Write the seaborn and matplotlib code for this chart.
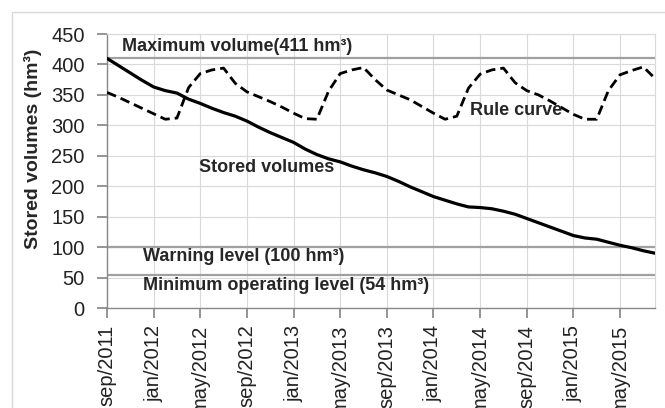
import numpy as np
import pandas as pd
import matplotlib
matplotlib.use("Agg")
import matplotlib.pyplot as plt
import seaborn as sns
from matplotlib.patches import Rectangle

# ---- data (monthly, Sep 2011 .. Aug 2015) ----
months = pd.date_range("2011-09-01", "2015-08-01", freq="MS")
stored_volumes = [410, 398, 386, 374, 363, 357, 353, 343, 336, 328, 321, 315,
                  307, 297, 288, 280, 272, 261, 252, 245, 240, 233, 227, 222,
                  216, 208, 199, 191, 183, 177, 171, 166, 165, 163, 159, 154,
                  147, 140, 133, 126, 119, 115, 113, 108, 103, 99, 94, 90]
rule_curve = [354, 346, 337, 328, 319, 310, 312, 362, 385, 391, 394, 369,
              355, 347, 339, 330, 320, 311, 310, 356, 385, 391, 395, 375,
              358, 350, 342, 331, 320, 310, 315, 361, 384, 391, 394, 370,
              357, 350, 340, 329, 318, 310, 310, 357, 383, 390, 396, 377]
tick_labels = ["sep/2011", "jan/2012", "may/2012", "sep/2012", "jan/2013",
               "may/2013", "sep/2013", "jan/2014", "may/2014", "sep/2014",
               "jan/2015", "may/2015"]
max_volume = 411
warning_level = 100
min_level = 54

df = pd.DataFrame({"m": np.arange(len(months)),
                   "stored": stored_volumes,
                   "rule": rule_curve})

sns.set_theme(style="white")
plt.rcParams["font.family"] = ["Liberation Sans", "DejaVu Sans"]

fig = plt.figure(figsize=(6.65, 4.08), dpi=100)
fig.patches.append(Rectangle((12 / 665, -0.05), 1.0, 1 - 12 / 408 + 0.05,
                             transform=fig.transFigure, fill=False,
                             edgecolor="#d9d9d9", linewidth=1.0))
ax = fig.add_axes([107 / 665, 1 - 308 / 408, 548 / 665, 274 / 408])

grid_c = "#d9d9d9"
ax.set_xlim(0, len(months) - 1)
ax.set_ylim(0, 450)
ax.set_yticks(np.arange(0, 451, 50))
ax.set_xticks(np.arange(0, len(months), 4))
ax.set_xticklabels(tick_labels, rotation=90, fontsize=14.5)
ax.tick_params(axis="y", labelsize=14.5, length=7, color="#888888",
               direction="out", left=True, pad=9, labelcolor="#222222")
ax.tick_params(axis="x", length=7, color="#888888", direction="out",
               bottom=True, pad=5, labelcolor="#222222")
ax.grid(True, color=grid_c, linewidth=0.8)
ax.set_axisbelow(True)
for s in ["top", "right"]:
    ax.spines[s].set_color(grid_c)
    ax.spines[s].set_linewidth(0.8)
for s in ["left", "bottom"]:
    ax.spines[s].set_color("#888888")
    ax.spines[s].set_linewidth(1.0)

for lvl in [max_volume, warning_level, min_level]:
    ax.axhline(lvl, color="#a0a0a0", linewidth=1.6, zorder=2)

sns.lineplot(data=df, x="m", y="stored", ax=ax, color="black",
             linewidth=2.3, zorder=3)
sns.lineplot(data=df, x="m", y="rule", ax=ax, color="black",
             linewidth=2.0, zorder=3, dashes=False, linestyle=(0, (3.5, 1.8)))

ax.set_xlabel("")
ax.set_ylabel("Stored volumes (hm³)", fontsize=14, fontweight="bold")
ax.yaxis.set_label_coords(-0.118, 0.58)

tk = dict(fontsize=13, fontweight="bold", va="center", ha="left", zorder=4)
ax.text(1.3, 429, "Maximum volume(411 hm³)", **tk)
ax.text(7.9, 230, "Stored volumes", **tk)
ax.text(31.1, 325, "Rule curve", **tk)
ax.text(3.1, 84, "Warning level (100 hm³)", **tk)
ax.text(3.1, 37, "Minimum operating level (54 hm³)", **tk)

fig.savefig("out.png", dpi=100)
